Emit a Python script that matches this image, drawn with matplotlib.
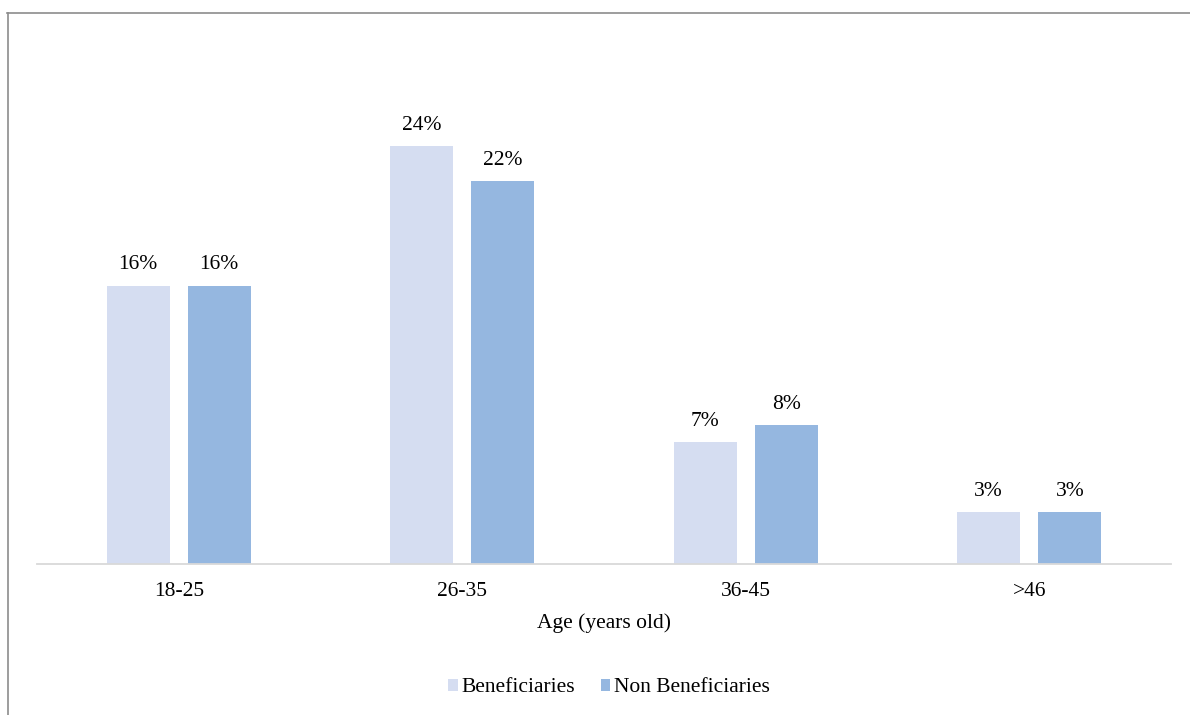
import numpy as np
import matplotlib.pyplot as plt
from matplotlib.lines import Line2D

plt.rcParams['font.family'] = ['Liberation Serif', 'DejaVu Serif']

# data
age_groups = ['18-25', '26-35', '36-45', '>46']
beneficiaries = [16, 24, 7, 3]
non_beneficiaries = [16, 22, 8, 3]
series_names = ['Beneficiaries', 'Non Beneficiaries']
colors = ['#D5DDF1', '#95B7E0']

fig = plt.figure(figsize=(11.9, 7.15), dpi=100)
ax = fig.add_axes([37 / 1190, 151 / 715, 1134 / 1190, 522 / 715])

x = np.arange(len(age_groups))
width = 0.222
offset = 0.143

bars1 = ax.bar(x - offset, beneficiaries, width, color=colors[0], label=series_names[0])
bars2 = ax.bar(x + offset, non_beneficiaries, width, color=colors[1], label=series_names[1])

fs = 15.5
for bars, vals in [(bars1, beneficiaries), (bars2, non_beneficiaries)]:
    for b, v in zip(bars, vals):
        ax.annotate(f'{v}%', (b.get_x() + b.get_width() / 2, b.get_height()),
                    xytext=(0, 8), textcoords='offset points',
                    ha='center', va='bottom', fontsize=fs)

ax.set_xlim(-0.5, 3.5)
ax.set_ylim(0, 30)
ax.set_xticks(x)
ax.set_xticklabels(age_groups, fontsize=fs)
ax.tick_params(axis='x', length=0, pad=13)
ax.set_yticks([])
for s in ['top', 'right', 'left']:
    ax.spines[s].set_visible(False)
ax.spines['bottom'].set_color('#D9D9D9')
ax.spines['bottom'].set_linewidth(1.3)
ax.set_xlabel('Age (years old)', fontsize=fs, labelpad=9)

fig.legend(loc='center', bbox_to_anchor=(609 / 1190, 1 - 688 / 715), ncol=2, frameon=False,
           fontsize=fs, handlelength=0.45, handleheight=0.45, handletextpad=0.15,
           columnspacing=1.2)

# outer chart border (top and left visible)
fig.add_artist(Line2D([7.5 / 1190, 7.5 / 1190], [0, 1 - 12.5 / 715], transform=fig.transFigure,
                      color='#8C8C8C', linewidth=1.2))
fig.add_artist(Line2D([7 / 1190, 1], [1 - 12.5 / 715, 1 - 12.5 / 715], transform=fig.transFigure,
                      color='#8C8C8C', linewidth=1.2))

fig.savefig('out.png', dpi=100)
